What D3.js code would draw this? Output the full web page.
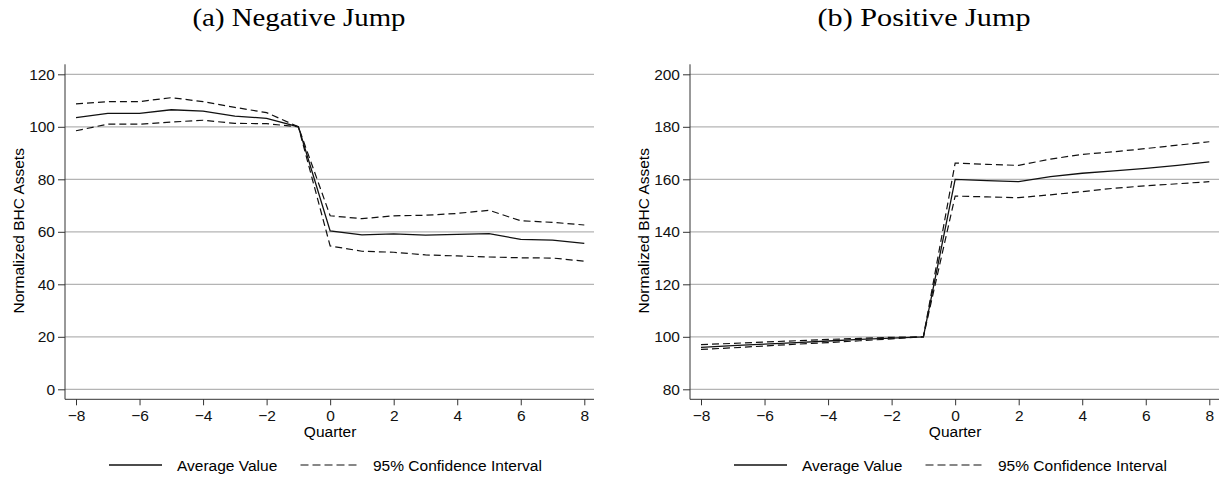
<!DOCTYPE html>
<html>
<head>
<meta charset="utf-8">
<script src="https://cdn.jsdelivr.net/npm/d3@7"></script>
<style>
  body { margin: 0; background: #fff; }
  svg { display: block; }
  .tick text { font-family: "Liberation Sans", Arial, sans-serif; font-size: 15.5px; fill: #111; }
</style>
</head>
<body>
<div id="chart"></div>
<script>
// quarters relative to jump
const quarters = [-8, -7, -6, -5, -4, -3, -2, -1, 0, 1, 2, 3, 4, 5, 6, 7, 8];

// (a) negative jump
const negAvg   = [103.5, 105.1, 105.1, 106.5, 106.0, 104.1, 103.2, 100, 60.3, 58.8, 59.2, 58.7, 59.0, 59.3, 57.1, 56.8, 55.6];
const negUpper = [108.7, 109.6, 109.6, 111.1, 109.6, 107.4, 105.4, 100, 66.1, 65.0, 66.1, 66.3, 67.0, 68.2, 64.2, 63.6, 62.6];
const negLower = [98.5, 101.0, 101.0, 101.8, 102.5, 101.3, 101.2, 100, 54.6, 52.6, 52.2, 51.2, 50.8, 50.4, 50.1, 50.0, 48.8];

// (b) positive jump
const posAvg   = [96.0, 96.6, 97.2, 97.8, 98.4, 99.0, 99.5, 100, 160.0, 159.5, 159.1, 161.0, 162.3, 163.2, 164.2, 165.3, 166.6];
const posUpper = [97.0, 97.5, 98.0, 98.5, 99.0, 99.4, 99.8, 100, 166.2, 165.7, 165.3, 167.7, 169.5, 170.5, 171.7, 173.0, 174.3];
const posLower = [95.2, 95.8, 96.5, 97.2, 97.8, 98.5, 99.2, 100, 153.6, 153.3, 153.0, 154.1, 155.3, 156.6, 157.5, 158.3, 159.1];

const xTicks = [-8, -6, -4, -2, 0, 2, 4, 6, 8];
const negYTicks = [0, 20, 40, 60, 80, 100, 120];
const posYTicks = [80, 100, 120, 140, 160, 180, 200];

const panels = [
  { title: "(a) Negative Jump", left: 65, avg: negAvg, upper: negUpper, lower: negLower, yDomain: [0, 120], yTicks: negYTicks },
  { title: "(b) Positive Jump", left: 690, avg: posAvg, upper: posUpper, lower: posLower, yDomain: [80, 200], yTicks: posYTicks }
];

const width = 1225, height = 478;
const plotW = 529;          // axis to end of gridlines
const plotTop = 74.3, plotBottom = 389.3, axisY = 399.3;

const svg = d3.select("#chart").append("svg")
  .attr("width", width)
  .attr("height", height);

const sans = "'Liberation Sans', Arial, sans-serif";
const fs = "15.5px";

panels.forEach(p => {
  const g = svg.append("g");

  const x = d3.scaleLinear().domain([-8, 8]).range([p.left + 11, p.left + 519.3]);
  const y = d3.scaleLinear().domain(p.yDomain).range([plotBottom, plotTop]);

  // gridlines
  g.append("g")
    .selectAll("line")
    .data(p.yTicks)
    .join("line")
    .attr("x1", p.left)
    .attr("x2", p.left + plotW)
    .attr("y1", d => y(d))
    .attr("y2", d => y(d))
    .attr("stroke", "#b4b4b4")
    .attr("stroke-width", 1.3);

  // y axis
  const yAxis = g.append("g")
    .attr("transform", `translate(${p.left},0)`)
    .call(d3.axisLeft(y).tickValues(p.yTicks).tickSize(7).tickPadding(3).tickSizeOuter(0));
  yAxis.select(".domain").attr("d", `M0,${plotTop - 10}V${axisY}`).attr("stroke", "#333");
  yAxis.selectAll(".tick line").attr("stroke", "#333");

  // x axis
  const xAxis = g.append("g")
    .attr("transform", `translate(0,${axisY})`)
    .call(d3.axisBottom(x).tickValues(xTicks).tickSize(6).tickPadding(4.5)
      .tickFormat(d => d < 0 ? "\u2212" + Math.abs(d) : d));
  xAxis.select(".domain").attr("d", `M${p.left},0H${p.left + plotW}`).attr("stroke", "#333");
  xAxis.selectAll(".tick line").attr("stroke", "#333");

  // axis titles
  g.append("text")
    .attr("x", (x(-8) + x(8)) / 2)
    .attr("y", 437)
    .attr("text-anchor", "middle")
    .style("font-family", sans)
    .style("font-size", fs)
    .text("Quarter");

  g.append("text")
    .attr("transform", `translate(${p.left - 41},${(plotTop + plotBottom) / 2 - 1}) rotate(-90)`)
    .attr("text-anchor", "middle")
    .style("font-family", sans)
    .style("font-size", fs)
    .text("Normalized BHC Assets");

  // panel title
  g.append("text")
    .attr("x", p.left + 234)
    .attr("y", 26)
    .attr("text-anchor", "middle")
    .attr("textLength", 213)
    .attr("lengthAdjust", "spacingAndGlyphs")
    .style("font-family", "'Liberation Serif', 'DejaVu Serif', serif")
    .style("font-size", "26px")
    .text(p.title);

  const line = d3.line()
    .x((d, i) => x(quarters[i]))
    .y(d => y(d));

  [p.upper, p.lower].forEach(s => {
    g.append("path")
      .datum(s)
      .attr("fill", "none")
      .attr("stroke", "#111")
      .attr("stroke-width", 1.2)
      .attr("stroke-dasharray", "7,4")
      .attr("d", line);
  });

  g.append("path")
    .datum(p.avg)
    .attr("fill", "none")
    .attr("stroke", "#111")
    .attr("stroke-width", 1.3)
    .attr("d", line);

  // legend
  const leg = g.append("g").attr("transform", `translate(${p.left + 44},465)`);
  leg.append("line").attr("x1", 0).attr("x2", 53).attr("y1", 0).attr("y2", 0)
    .attr("stroke", "#111").attr("stroke-width", 1.3);
  leg.append("text").attr("x", 68).attr("y", 5.5)
    .style("font-family", sans).style("font-size", fs).text("Average Value");
  leg.append("line").attr("x1", 191.5).attr("x2", 251).attr("y1", 0).attr("y2", 0)
    .attr("stroke", "#111").attr("stroke-width", 1.2).attr("stroke-dasharray", "8,4");
  leg.append("text").attr("x", 264).attr("y", 5.5)
    .style("font-family", sans).style("font-size", fs).text("95% Confidence Interval");
});
</script>
</body>
</html>
